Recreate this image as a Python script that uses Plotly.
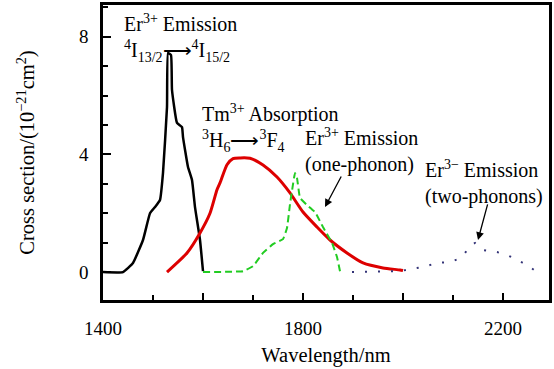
import plotly.graph_objects as go

# Er3+ emission 4I13/2 -> 4I15/2 (black)
er_x = [1400, 1440, 1460, 1480, 1494, 1504, 1514, 1520, 1528, 1530, 1536, 1538, 1548, 1558, 1560, 1570, 1578, 1584, 1594, 1600]
er_y = [0, 0, 0.31, 1.09, 2.0, 2.21, 2.45, 3.37, 5.61, 7.45, 7.38, 6.19, 5.07, 4.93, 4.59, 3.57, 3.13, 2.21, 1.09, 0.03]

# Tm3+ absorption 3H6 -> 3F4 (red)
tm_x = [1528, 1568, 1594, 1614, 1628, 1634, 1648, 1660, 1674, 1694, 1720, 1748, 1774, 1800, 1828, 1854, 1888, 1920, 1960, 1994, 2000]
tm_y = [0, 0.65, 1.33, 2.0, 2.8, 3.03, 3.65, 3.86, 3.88, 3.87, 3.64, 3.23, 2.69, 2.04, 1.53, 1.09, 0.65, 0.31, 0.14, 0.07, 0.05]

# Er3+ emission one-phonon (green dashed)
one_x = [1600, 1680, 1700, 1720, 1740, 1760, 1768, 1774, 1778, 1784, 1788, 1794, 1808, 1824, 1840, 1858, 1868, 1874]
one_y = [0, 0.03, 0.2, 0.65, 0.95, 1.12, 1.5, 2.31, 2.76, 3.37, 3.2, 2.52, 2.28, 2.04, 1.53, 0.99, 0.51, 0.03]

# Er3+ emission two-phonons (navy dotted)
two_x = [1898, 1994, 2014, 2040, 2068, 2094, 2110, 2124, 2134, 2144, 2160, 2188, 2208, 2234, 2254, 2268]
two_y = [0, 0.03, 0.1, 0.17, 0.31, 0.34, 0.44, 0.65, 0.88, 0.99, 0.75, 0.68, 0.58, 0.37, 0.17, 0]

x_ticks = [1400, 1600, 1800, 2000, 2200]
x_labels = ["1400", "", "1800", "", "2200"]
y_ticks = [0, 4, 8]
y_labels = ["0", "4", "8"]

FONT = '"Liberation Serif", "Times New Roman", serif'

fig = go.Figure()
fig.add_trace(go.Scatter(x=er_x, y=er_y, mode="lines", line=dict(color="black", width=2.5, shape="spline", smoothing=0.35)))
fig.add_trace(go.Scatter(x=tm_x, y=tm_y, mode="lines", line=dict(color="#dd0000", width=3, shape="spline", smoothing=0.6)))
fig.add_trace(go.Scatter(x=one_x, y=one_y, mode="lines", line=dict(color="#22cc22", width=2, dash="7px,4px", shape="spline", smoothing=0.3)))
fig.add_trace(go.Scatter(x=two_x, y=two_y, mode="lines", line=dict(color="#333377", width=2, dash="2px,11px")))

ann_font = dict(family=FONT, size=20, color="black")
texts = [
    ("Er<sup>3+</sup> Emission<br><sup>4</sup>I<sub>13/2</sub>⟶<sup>4</sup>I<sub>15/2</sub>", 1438, 7.96),
    ("Tm<sup>3+</sup> Absorption<br><sup>3</sup>H<sub>6</sub>⟶<sup>3</sup>F<sub>4</sub>", 1594, 4.9),
    ("Er<sup>3+</sup> Emission<br>(one-phonon)", 1800, 4.12),
    ("Er<sup>3−</sup> Emission<br>(two-phonons)", 2040, 3.05),
]
for t, x, y in texts:
    fig.add_annotation(x=x, y=y, text=t, showarrow=False, xanchor="left", yanchor="middle",
                       align="left", font=ann_font)

arrows = [((1878, 3.30), (1844, 2.21)), ((2170, 2.35), (2150, 1.09))]
for (tx, ty), (hx, hy) in arrows:
    fig.add_annotation(x=hx, y=hy, ax=tx, ay=ty, axref="x", ayref="y", text="",
                       showarrow=True, arrowhead=2, arrowsize=1.2, arrowwidth=1.3, arrowcolor="black")

fig.update_layout(
    width=554, height=369,
    margin=dict(l=103, r=5, t=5, b=69),
    paper_bgcolor="white", plot_bgcolor="white",
    showlegend=False,
    font=dict(family=FONT, size=19, color="black"),
)
fig.update_xaxes(
    range=[1400, 2292], tickvals=x_ticks, ticktext=x_labels,
    ticks="inside", ticklen=7, tickwidth=2, tickcolor="black",
    minor=dict(dtick=100, tick0=1400, ticks="inside", ticklen=5, tickwidth=1.5, tickcolor="black"),
    showline=True, linewidth=2.5, linecolor="black", mirror=True,
    showgrid=False, zeroline=False, ticklabelstandoff=9,
    title=dict(text="Wavelength/nm", standoff=11, font=dict(family=FONT, size=20.5)),
    automargin=False,
)
fig.update_yaxes(
    range=[-0.95, 9.08], tickvals=y_ticks, ticktext=y_labels,
    ticks="inside", ticklen=8, tickwidth=2, tickcolor="black",
    minor=dict(dtick=1, tick0=0, ticks="inside", ticklen=5, tickwidth=1.5, tickcolor="black"),
    showline=True, linewidth=2.5, linecolor="black", mirror=True,
    showgrid=False, zeroline=False, ticklabelstandoff=8,
    title=dict(text="Cross section/(10<sup>−21</sup>cm<sup>2</sup>)", standoff=39, font=dict(family=FONT, size=20.5)),
    automargin=False,
)

fig.write_html("out.html", config={"displayModeBar": False},
               post_script="document.body.style.margin='0';document.body.style.overflow='hidden';")
